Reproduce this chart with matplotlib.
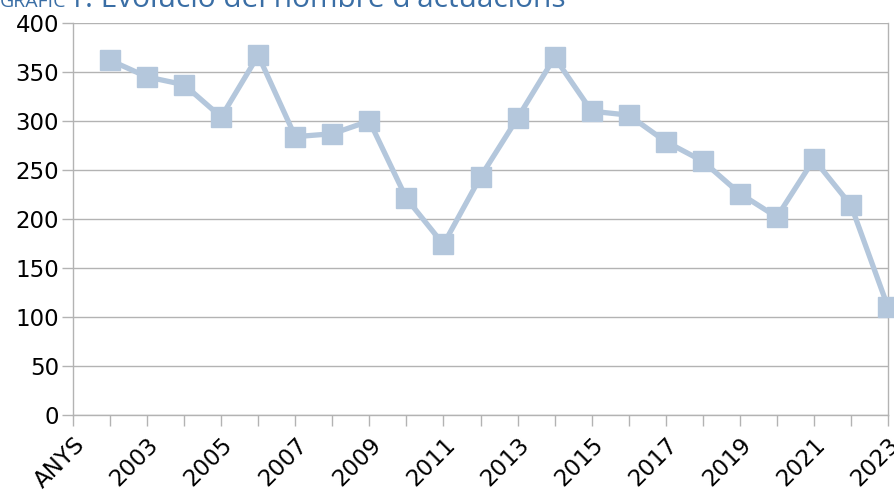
import matplotlib
matplotlib.use('Agg')
import matplotlib.pyplot as plt

categories = ['ANYS'] + [str(y) for y in range(2002, 2024)]
years = [str(y) for y in range(2002, 2024)]
values = [362, 345, 337, 304, 367, 284, 287, 300, 221, 174, 243, 303,
          365, 310, 306, 279, 259, 226, 202, 261, 214, 110]
yticks = [0, 50, 100, 150, 200, 250, 300, 350, 400]

plt.rcParams['font.family'] = ['DejaVu Sans']

fig = plt.figure(figsize=(8.94, 5), dpi=100)
ax = fig.add_axes([73 / 894, 1 - 415 / 500, (888 - 73) / 894, (415 - 23) / 500])

xpos = [categories.index(y) for y in years]
ax.plot(xpos, values, color='#b4c7dc', linewidth=3.8, marker='s',
        markersize=14.5, clip_on=False, zorder=3)

ax.set_xlim(0, len(categories) - 1)
ax.set_ylim(0, 400)
ax.set_yticks(yticks)
ax.set_yticklabels([str(v) for v in yticks], fontsize=16.5)
ax.set_xticks(range(len(categories)))
ax.set_xticklabels([c if i % 2 == 0 else '' for i, c in enumerate(categories)],
                   fontsize=16.5, rotation=45, ha='right', rotation_mode='anchor')

ax.grid(axis='y', color='#b3b3b3', linewidth=1)
ax.set_axisbelow(True)
for side in ['left', 'bottom', 'right']:
    ax.spines[side].set_color('#b3b3b3')
    ax.spines[side].set_linewidth(1)
ax.spines['top'].set_visible(False)
ax.tick_params(axis='both', color='#b3b3b3', length=8, width=1, pad=2)
ax.tick_params(axis='x', pad=5)

fig.text(0 / 894, 1 - 7 / 500, 'GRÀFIC', fontsize=14, color='#3a6ea5',
         family=['Open Sans', 'DejaVu Sans'], va='baseline', ha='left')
fig.text(68 / 894, 1 - 7 / 500, "1. Evolució del nombre d'actuacions", fontsize=21.5,
         color='#3a6ea5', family=['Open Sans', 'DejaVu Sans'], va='baseline', ha='left')

fig.savefig('out.png', dpi=100)
